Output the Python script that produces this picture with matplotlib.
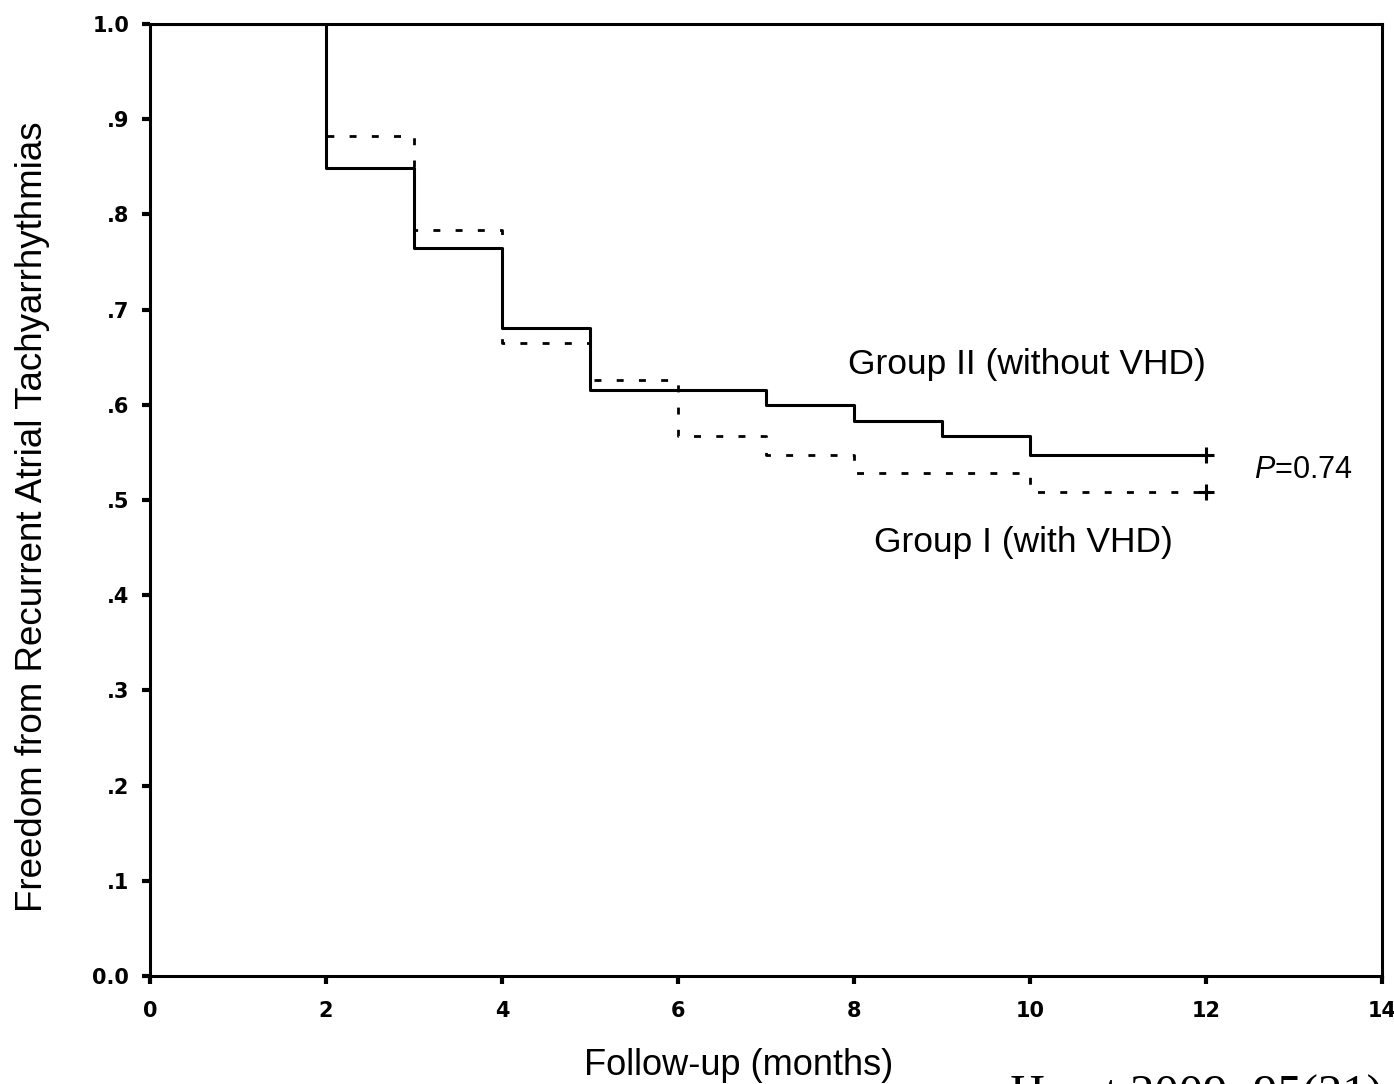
import matplotlib
matplotlib.use('Agg')
import matplotlib.pyplot as plt

plt.rcParams['font.family'] = ['Liberation Sans', 'DejaVu Sans']
plt.rcParams['mathtext.fontset'] = 'custom'
plt.rcParams['mathtext.rm'] = 'Liberation Sans'
plt.rcParams['mathtext.it'] = 'Liberation Sans:italic'

# Kaplan-Meier estimates
t_group2 = [0, 2, 3, 4, 5, 7, 8, 9, 10, 12]
s_group2 = [1.0, 0.849, 0.765, 0.681, 0.616, 0.600, 0.583, 0.567, 0.547, 0.547]
t_group1 = [0, 2, 3, 4, 5, 6, 7, 8, 10, 12]
s_group1 = [1.0, 0.882, 0.784, 0.665, 0.626, 0.567, 0.547, 0.528, 0.508, 0.508]

x_ticks = [0, 2, 4, 6, 8, 10, 12, 14]
y_ticks = [0.0, 0.1, 0.2, 0.3, 0.4, 0.5, 0.6, 0.7, 0.8, 0.9, 1.0]
y_ticklabels = ['0.0', '.1', '.2', '.3', '.4', '.5', '.6', '.7', '.8', '.9', '1.0']

fig = plt.figure(figsize=(13.94, 10.84), dpi=100)
ax = fig.add_axes([0.1076, 0.0996, 0.8838, 0.8783])

ax.step(t_group1, s_group1, where='post', color='black', lw=2.0,
        linestyle=(0, (2.5, 5.5)))
ax.step(t_group2, s_group2, where='post', color='black', lw=2.2)
ax.plot(t_group2[-1], s_group2[-1], marker='+', color='black', ms=12, mew=2.2)
ax.plot(t_group1[-1], s_group1[-1], marker='+', color='black', ms=12, mew=2.2)

ax.set_xlim(0, 14)
ax.set_ylim(0, 1.0)
ax.set_xticks(x_ticks)
ax.set_yticks(y_ticks)
ax.set_yticklabels(y_ticklabels)
for lab in ax.get_xticklabels() + ax.get_yticklabels():
    lab.set_family('DejaVu Sans')
    lab.set_fontweight('bold')
    lab.set_fontsize(15)
ax.tick_params(direction='out', length=6, width=3)
ax.tick_params(axis='x', pad=12)
ax.tick_params(axis='y', pad=9)
for sp in ax.spines.values():
    sp.set_linewidth(2.2)

ax.set_xlabel('Follow-up (months)', fontsize=26)
ax.xaxis.set_label_coords((739 - 150) / 1232, -(1065 - 976) / 952)
ax.xaxis.label.set_va('center')
ax.set_ylabel('Freedom from Recurrent Atrial Tachyarrhythmias', fontsize=26.5)
ax.yaxis.set_label_coords(-(150 - 33) / 1232, (976 - 517) / 952)
ax.yaxis.label.set_va('center')

ax.text(9.97, 0.642, 'Group II (without VHD)', fontsize=25.5, ha='center', va='center')
ax.text(9.92, 0.455, 'Group I (with VHD)', fontsize=25.5, ha='center', va='center')
ax.text(12.55, 0.531, r'$\mathit{P}$=0.74', fontsize=22, ha='left', va='center')

fig.text(1010 / 1394, 1 - 1075 / 1084, 'Heart 2009; 95(21)', fontsize=35,
         family=['Liberation Serif', 'DejaVu Serif'], ha='left', va='top')

fig.savefig('out.png', dpi=100)
